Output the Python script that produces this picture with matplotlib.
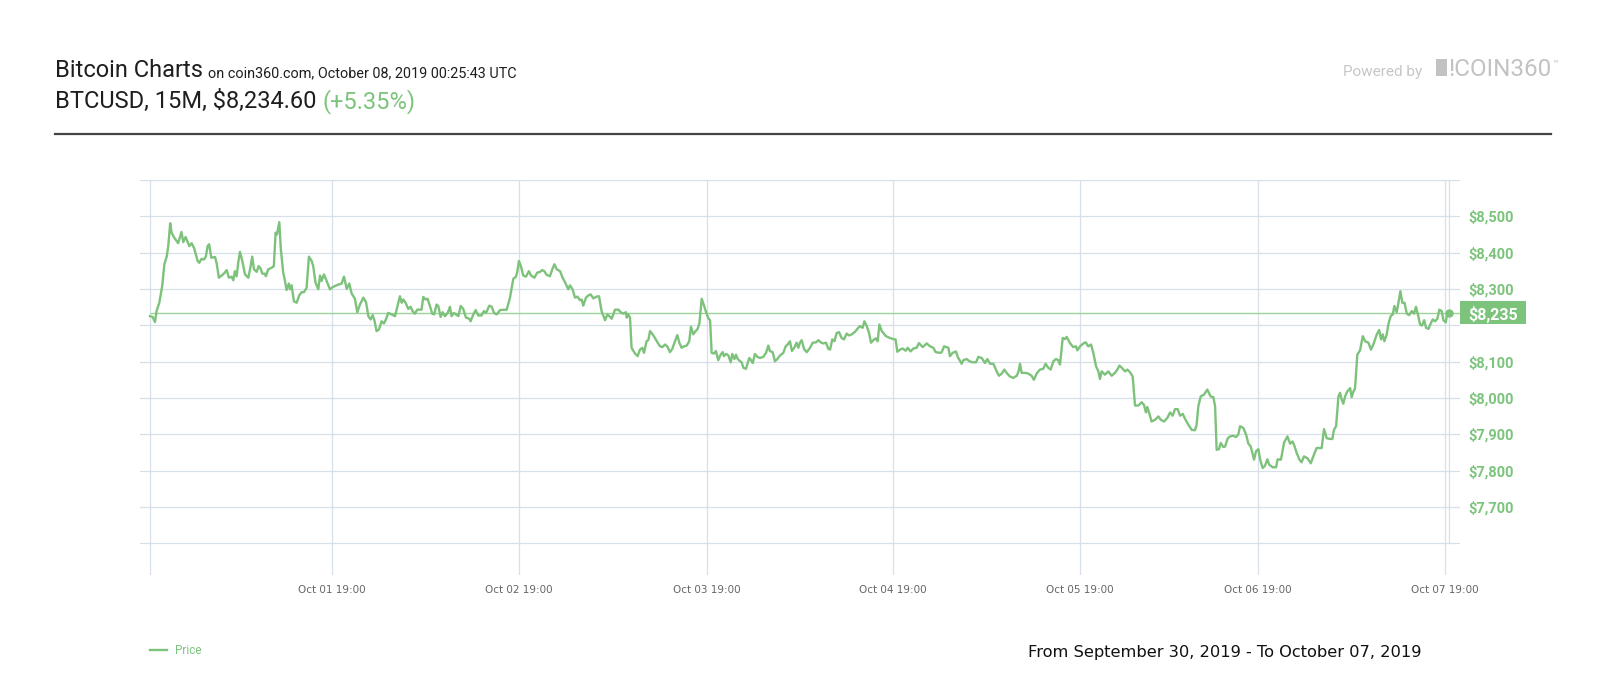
import matplotlib
matplotlib.use('Agg')
import matplotlib.pyplot as plt
from matplotlib.patches import Rectangle
from matplotlib.transforms import IdentityTransform

W, H = 1600, 700

# 15-minute bar number (0 = first bar on the chart) and BTC price
bars = [
    0.0, 1.4, 2.6, 3.4, 4.8, 6.3, 7.4, 8.6, 9.4, 10.4, 11.1, 12.5, 14.5, 16.2, 17.1, 18.3,
    20.2, 21.4, 22.7, 24.5, 25.3, 26.5, 27.7, 28.7, 29.6, 30.4, 31.5, 33.4, 34.2, 35.4, 36.8,
    38.1, 39.4, 40.5, 41.9, 42.8, 43.6, 44.5, 45.3, 46.2, 47.4, 48.8, 50.5, 51.7, 52.5, 53.4,
    54.8, 55.8, 56.8, 57.7, 59.0, 59.5, 60.7, 62.4, 63.6, 64.5, 65.2, 66.4, 67.2, 68.4, 69.3,
    70.1, 71.3, 71.9, 72.7, 73.9, 75.3, 76.6, 77.8, 79.0, 80.4, 81.6, 83.0, 83.8, 85.0, 86.4,
    87.3, 88.1, 89.3, 90.7, 92.4, 94.1, 96.7, 98.4, 99.6, 101.0, 102.3, 103.5, 105.2, 106.4,
    107.8, 109.5, 110.9, 112.1, 113.3, 114.3, 115.2, 116.3, 117.5, 118.9, 120.1, 121.1, 122.3,
    124.0, 125.8, 127.1, 128.3, 129.2, 130.0, 131.2, 132.6, 133.8, 134.8, 136.0, 137.2, 139.4,
    140.3, 141.5, 142.5, 143.7, 144.9, 145.9, 147.1, 148.0, 149.2, 150.2, 151.4, 152.8, 154.0,
    154.8, 156.0, 157.1, 158.3, 159.5, 160.8, 162.2, 163.9, 164.6, 166.0, 167.2, 168.5, 170.2,
    171.4, 172.5, 174.2, 175.4, 176.6, 178.0, 179.7, 183.1, 184.8, 186.5, 187.9, 188.6, 189.4,
    190.4, 191.6, 193.0, 194.5, 195.6, 197.3, 198.8, 200.2, 201.4, 202.4, 203.6, 205.3, 206.5,
    207.6, 208.8, 210.5, 211.8, 213.0, 214.7, 215.6, 216.9, 218.2, 219.4, 220.7, 221.6, 222.4,
    223.8, 225.0, 226.2, 227.6, 229.3, 230.5, 231.8, 233.6, 234.8, 235.8, 237.0, 238.7, 240.4,
    241.6, 243.0, 244.3, 244.7, 245.5, 246.4, 247.2, 249.0, 250.3, 251.5, 252.7, 253.6, 254.9,
    255.8, 256.7, 258.0, 259.2, 260.6, 261.8, 263.0, 264.4, 265.5, 266.9, 268.1, 269.5, 270.7,
    271.7, 272.9, 274.1, 275.5, 276.8, 277.7, 278.9, 280.1, 281.1, 282.0, 283.2, 284.4, 285.7,
    286.6, 287.5, 288.3, 289.5, 290.5, 291.7, 292.9, 294.0, 294.6, 295.7, 296.9, 298.1, 298.9,
    300.0, 300.8, 301.7, 302.9, 303.7, 304.6, 305.9, 306.6, 307.6, 308.3, 309.4, 310.5, 311.8,
    313.1, 314.8, 316.2, 317.4, 318.2, 319.6, 320.8, 322.0, 323.4, 325.1, 326.3, 327.3, 328.5,
    329.5, 330.7, 331.9, 332.8, 333.6, 334.5, 335.7, 337.1, 338.8, 340.2, 341.9, 343.1, 344.3,
    345.6, 347.0, 348.2, 349.1, 350.2, 351.3, 352.5, 353.7, 355.0, 356.2, 357.6, 358.8, 360.2,
    361.9, 363.1, 364.4, 365.8, 366.7, 367.9, 369.1, 370.1, 371.3, 372.5, 373.5, 374.4, 375.6,
    377.8, 379.8, 381.5, 382.7, 383.6, 385.0, 386.3, 387.9, 388.9, 390.4, 391.8, 393.5, 394.7,
    396.6, 398.7, 400.4, 402.1, 403.3, 405.5, 406.4, 407.6, 409.8, 410.6, 412.0, 413.7, 414.6,
    416.6, 417.5, 419.2, 420.6, 422.3, 424.0, 425.2, 426.9, 428.6, 429.8, 431.2, 432.9, 434.6,
    435.8, 437.2, 438.5, 439.7, 441.4, 443.1, 444.9, 445.7, 446.6, 447.4, 449.1, 450.8, 452.5,
    453.7, 455.1, 456.8, 458.5, 459.7, 461.1, 462.3, 463.7, 465.0, 466.2, 467.1, 468.5, 469.7,
    470.5, 472.2, 473.9, 475.3, 476.0, 477.4, 479.1, 480.3, 481.6, 483.0, 484.2, 485.6, 486.8,
    487.6, 488.5, 490.2, 491.9, 493.6, 495.3, 496.5, 497.6, 498.8, 500.5, 501.7, 503.0, 504.4,
    505.6, 507.3, 509.0, 510.2, 511.2, 511.9, 512.9, 514.1, 515.9, 517.6, 518.8, 520.5, 522.2,
    523.6, 524.9, 526.1, 527.5, 528.7, 530.1, 531.3, 533.0, 534.7, 536.4, 537.2, 538.1, 539.3,
    541.0, 542.7, 544.4, 545.8, 546.7, 547.5, 548.7, 549.6, 550.9, 551.8, 553.2, 554.4, 556.1,
    557.4, 558.6, 559.5, 561.2, 562.6, 563.8, 565.0, 566.7, 567.7, 568.9, 569.8, 571.1, 572.3,
    573.5, 574.5, 576.3, 578.0, 578.8, 580.5, 582.1, 583.8, 585.2, 586.5, 587.4, 588.6, 590.0,
    591.1, 592.3, 594.1, 595.8, 597.1, 598.8, 600.2, 601.4, 602.6, 604.0, 605.7, 606.9, 607.7,
    608.8, 610.0, 610.8, 611.7, 612.5, 613.4, 614.6, 616.0, 616.8, 617.7, 618.5, 619.7, 621.1,
    622.5, 623.7, 625.4, 626.7, 627.9, 629.7, 630.9, 631.9, 632.7, 633.6, 634.8, 635.6, 636.8,
    637.9, 638.7, 639.9, 640.8, 641.8, 642.8, 643.9, 645.1, 646.3, 647.6, 648.8, 649.8, 651.0,
    651.9, 652.9, 654.0, 655.0, 656.2, 657.4, 658.4, 659.6, 660.8, 661.8, 663.0, 663.9, 665.1,
    665.6, 666.8,
]
prices = [
    8225, 8223, 8209, 8239, 8262, 8308, 8368, 8389, 8418, 8481, 8455, 8441, 8426, 8457, 8429, 8443,
    8418, 8426, 8412, 8377, 8372, 8383, 8381, 8389, 8418, 8423, 8386, 8388, 8372, 8331, 8337,
    8343, 8352, 8331, 8334, 8324, 8349, 8335, 8372, 8402, 8377, 8340, 8331, 8363, 8389, 8354,
    8347, 8363, 8356, 8342, 8342, 8335, 8354, 8358, 8363, 8455, 8450, 8484, 8409, 8345, 8322,
    8297, 8315, 8299, 8310, 8266, 8262, 8282, 8291, 8291, 8303, 8389, 8377, 8363, 8317, 8299,
    8337, 8322, 8340, 8322, 8299, 8306, 8312, 8315, 8334, 8300, 8315, 8288, 8273, 8236,
    8257, 8276, 8264, 8225, 8216, 8228, 8214, 8184, 8188, 8211, 8205, 8216, 8234,
    8230, 8225, 8253, 8280, 8262, 8271, 8262, 8245, 8251, 8239, 8232, 8243, 8243,
    8278, 8271, 8273, 8253, 8232, 8230, 8257, 8253, 8223, 8236, 8225, 8234, 8251,
    8225, 8234, 8230, 8225, 8253, 8245, 8221, 8218, 8211, 8230, 8242, 8227, 8227,
    8239, 8234, 8254, 8251, 8234, 8230, 8242, 8243, 8276, 8328, 8334, 8349, 8377,
    8363, 8337, 8334, 8349, 8337, 8331, 8345, 8347, 8352, 8349, 8339, 8335, 8354,
    8368, 8354, 8349, 8331, 8319, 8299, 8310, 8299, 8276, 8279, 8269, 8271, 8254,
    8276, 8282, 8285, 8274, 8279, 8280, 8239, 8214, 8230, 8225, 8218, 8243, 8243,
    8236, 8232, 8236, 8221, 8230, 8221, 8138, 8122, 8115, 8133, 8138, 8124, 8156,
    8159, 8184, 8175, 8165, 8152, 8142, 8140, 8147, 8142, 8126, 8135, 8156, 8173,
    8152, 8138, 8142, 8144, 8156, 8196, 8175, 8184, 8190, 8205, 8273, 8254, 8232,
    8219, 8214, 8124, 8122, 8129, 8104, 8119, 8126, 8115, 8121, 8117, 8098, 8121,
    8107, 8119, 8107, 8101, 8098, 8083, 8080, 8092, 8110, 8106, 8096, 8121, 8113,
    8110, 8113, 8124, 8144, 8129, 8126, 8101, 8107, 8117, 8124, 8142, 8147, 8156,
    8129, 8138, 8152, 8138, 8152, 8159, 8135, 8126, 8138, 8152, 8153, 8159, 8153,
    8150, 8152, 8135, 8133, 8161, 8156, 8179, 8181, 8165, 8161, 8177, 8172, 8175,
    8182, 8190, 8198, 8193, 8211, 8198, 8179, 8152, 8159, 8164, 8156, 8202, 8184,
    8170, 8165, 8162, 8161, 8127, 8133, 8136, 8130, 8138, 8128, 8136, 8138, 8151,
    8140, 8150, 8142, 8138, 8126, 8124, 8126, 8142, 8138, 8115, 8124, 8128, 8113,
    8094, 8104, 8107, 8101, 8098, 8098, 8113, 8110, 8096, 8107, 8094, 8094, 8073,
    8061, 8067, 8078, 8069, 8059, 8055, 8061, 8071, 8094, 8069, 8069, 8067, 8061,
    8050, 8067, 8078, 8080, 8094, 8083, 8078, 8101, 8107, 8104, 8092, 8165, 8162,
    8168, 8151, 8140, 8142, 8131, 8142, 8150, 8153, 8142, 8147, 8124, 8087, 8073,
    8052, 8073, 8064, 8073, 8061, 8069, 8078, 8089, 8083, 8073, 8078, 8071, 8059,
    7979, 7979, 7988, 7981, 7960, 7975, 7958, 7935, 7940, 7949, 7940, 7935, 7945,
    7960, 7951, 7969, 7969, 7951, 7956, 7942, 7926, 7912, 7911, 7926, 7977, 8004,
    8009, 8023, 8004, 8002, 7977, 7857, 7859, 7876, 7865, 7866, 7889, 7894, 7896,
    7892, 7899, 7922, 7917, 7899, 7874, 7866, 7830, 7853, 7859, 7831, 7807, 7813,
    7831, 7816, 7809, 7809, 7831, 7830, 7877, 7894, 7874, 7880, 7868, 7848, 7830,
    7823, 7839, 7834, 7820, 7839, 7862, 7862, 7862, 7914, 7889, 7887, 7887, 7912,
    7922, 8004, 8014, 7995, 7984, 8004, 8018, 8027, 8002, 8018, 8025, 8119, 8131,
    8170, 8156, 8152, 8133, 8147, 8175, 8187, 8161, 8175, 8156, 8175, 8202, 8225,
    8230, 8253, 8236, 8262, 8294, 8262, 8262, 8232, 8228, 8239, 8232, 8251, 8225,
    8202, 8199, 8214, 8193, 8190, 8205, 8216, 8211, 8218, 8243, 8239, 8214, 8208,
    8225, 8235,
]
last_price = 8234.60
change_pct = 5.35

tick_bars = [93.4, 189.4, 285.9, 381.4, 477.4, 568.7, 664.7]
tick_labels = ['Oct 01 19:00', 'Oct 02 19:00', 'Oct 03 19:00', 'Oct 04 19:00',
               'Oct 05 19:00', 'Oct 06 19:00', 'Oct 07 19:00']
grid_levels = [7600, 7700, 7800, 7900, 8000, 8100, 8200, 8300, 8400, 8500, 8600]
label_levels = [7700, 7800, 7900, 8000, 8100, 8300, 8400, 8500]

GREEN = '#7cc47c'
LINE = '#7dc27b'
GRID = '#d7e0e8'
DARK = '#1e1e1e'
LOGO = '#c2c2c2'


def fx(x):
    return x / W


def fy(y):
    return 1 - y / H


fig = plt.figure(figsize=(16, 7), dpi=100)
fig.patch.set_facecolor('white')

ax = fig.add_axes([fx(140), fy(575), 1320 / W, 395 / H])
ax.set_xlim(-5.1, 672.4)
ax.set_ylim(7512.4, 8600)
for s in ax.spines.values():
    s.set_visible(False)

for lvl in grid_levels:
    ax.axhline(lvl, color=GRID, lw=0.9, zorder=0)
for b in [bars[0]] + tick_bars:
    ax.axvline(b, color=GRID, lw=0.9, zorder=0)
y0, y1 = ax.get_ylim()
ax.axvline(bars[-1], ymin=(grid_levels[0] - y0) / (y1 - y0), color=GRID, lw=0.9, zorder=0)

price_line, = ax.plot(bars, prices, color=LINE, lw=1.7, zorder=3, label='Price',
                      solid_joinstyle='round')
ax.hlines(last_price, bars[0], ax.get_xlim()[1], color='#9dd39b', lw=1.0, zorder=2)
ax.plot(bars[-1], prices[-1], 'o', ms=5, color=LINE, zorder=4)

ax.set_xticks(tick_bars, labels=tick_labels)
ax.tick_params(axis='x', length=0, pad=7, labelcolor='#666666', labelsize=7.5)

ax.yaxis.tick_right()
ax.set_yticks(label_levels, labels=[f'${v:,}' for v in label_levels])
ax.tick_params(axis='y', length=0, pad=6, labelcolor=GREEN, labelsize=10.5)
for lbl in ax.get_yticklabels():
    lbl.set_fontfamily('Roboto')
    lbl.set_fontweight('bold')

# current price tag at the right edge of the plot
ex, ey = ax.transData.transform((ax.get_xlim()[1], last_price))
fig.add_artist(Rectangle((ex, ey - 11.5), 66, 23, transform=IdentityTransform(),
                         color=GREEN, lw=0, zorder=5))
fig.text(ex + 33, ey, f'${last_price:,.0f}', transform=IdentityTransform(), ha='center',
         va='center_baseline', color='white', fontsize=11.5, fontfamily='Roboto',
         fontweight='bold', zorder=6)

# header
renderer = fig.canvas.get_renderer()


def after(t, s, gap=0, **kw):
    bb = t.get_window_extent(renderer)
    x = (bb.x1 + gap) / W
    return fig.text(x, t.get_position()[1], s, va='baseline', **kw)


t1 = fig.text(fx(55), fy(77), 'Bitcoin Charts', fontsize=17, color=DARK,
              fontfamily='Roboto', va='baseline')
after(t1, 'on coin360.com, October 08, 2019 00:25:43 UTC', gap=5, fontsize=10.4,
      color=DARK, fontfamily='Roboto')
t2 = fig.text(fx(55), fy(108), f'BTCUSD, 15M, ${last_price:,.2f} ', fontsize=17, color=DARK,
              fontfamily='Roboto', va='baseline')
after(t2, f'(+{change_pct:.2f}%)', fontsize=17, color=GREEN, fontfamily='Roboto')

fig.add_artist(plt.Line2D([fx(55), fx(1551)], [fy(134), fy(134)], color='#444444', lw=1.6))

# powered by logo
fig.text(fx(1422), fy(76), 'Powered by', ha='right', va='baseline', fontsize=11,
         color='#c6c6c6', fontfamily='Roboto')
fig.add_artist(Rectangle((fx(1436), fy(76)), 11 / W, 17 / H, transform=fig.transFigure,
                         color=LOGO, lw=0))
t3 = fig.text(fx(1448), fy(76), '!COIN360', va='baseline', fontsize=17.5, color=LOGO,
              fontfamily='Roboto')
after(t3, '\u2122', gap=1, fontsize=7, color=LOGO, fontfamily='Roboto').set_y(fy(66))

# legend and date range
fig.legend(handles=[price_line], loc='center left', bbox_to_anchor=(fx(150), fy(651)),
           frameon=False, borderpad=0, borderaxespad=0, handlelength=1.4,
           handletextpad=0.7, labelcolor=GREEN, prop={'family': 'Roboto', 'size': 8.5})
fig.text(fx(1422), fy(653), 'From September 30, 2019 - To October 07, 2019', ha='right',
         va='center', fontsize=11.7, color='#111111', fontfamily='DejaVu Sans')

fig.savefig('out.png', dpi=100)
